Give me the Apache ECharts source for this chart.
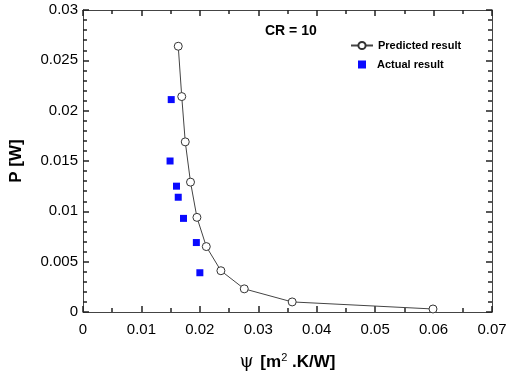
<!DOCTYPE html>
<html>
<head>
<meta charset="utf-8">
<script src="https://cdn.jsdelivr.net/npm/echarts@6/dist/echarts.min.js"></script>
<style>
  html, body { margin: 0; padding: 0; background: #fff; }
  #chart { width: 510px; height: 378px; }
</style>
</head>
<body>
<div id="chart"></div>
<script>
// predicted curve, psi [m2.K/W] vs P [W]
const predPsi = [0.0163, 0.0169, 0.0175, 0.0184, 0.0195, 0.0211, 0.0236, 0.0276, 0.0358, 0.0599]
const predP = [0.0264, 0.0214, 0.0169, 0.0129, 0.0094, 0.0065, 0.0041, 0.0023, 0.0010, 0.0003]
// measured points
const actPsi = [0.0151, 0.0149, 0.0160, 0.0163, 0.0172, 0.0194, 0.0200]
const actP = [0.0211, 0.0150, 0.0125, 0.0114, 0.0093, 0.0069, 0.0039]

const font = 'Liberation Sans'
const frameColor = '#444'
const tickColor = '#222'

const chart = echarts.init(document.getElementById('chart'))

// ticks point into the plot on all four sides
function axisStyle(minorSplit) {
  return {
    axisLine: { show: true, onZero: false, lineStyle: { color: frameColor, width: 1 } },
    axisTick: { show: true, inside: true, length: 6, lineStyle: { color: tickColor, width: 1.5 } },
    minorTick: { show: true, splitNumber: minorSplit, length: 4, lineStyle: { color: tickColor, width: 1.5 } },
    splitLine: { show: true, lineStyle: { opacity: 0 } }
  }
}

const option = {
  animation: false,
  grid: { left: 77, right: 18, top: 10, bottom: 66 },
  graphic: [{
    type: 'text',
    left: 265,
    top: 24,
    style: { text: 'CR = 10', font: 'bold 14px "Liberation Sans"', fill: '#000' }
  }],
  legend: [{
    data: ['Predicted result'],
    left: 345,
    top: 35,
    itemWidth: 22,
    itemHeight: 9,
    itemGap: 0,
    textStyle: { fontFamily: font, fontWeight: 'bold', fontSize: 11, color: '#000' }
  }, {
    data: ['Actual result'],
    left: 353,
    top: 54,
    itemWidth: 8,
    itemHeight: 8,
    textStyle: { fontFamily: font, fontWeight: 'bold', fontSize: 11, color: '#000', padding: [0, 0, 0, 6] }
  }],
  xAxis: [{
    type: 'value',
    min: 0, max: 0.07, interval: 0.01,
    ...axisStyle(2),
    axisLabel: { color: '#000', fontFamily: font, fontSize: 15, margin: 10 },
    name: '{psi|ψ}  {b|[m}{sup|2}{b| .K/W]}',
    nameLocation: 'middle',
    nameGap: 40,
    nameTextStyle: {
      rich: {
        psi: { fontFamily: 'DejaVu Serif', fontSize: 18, color: '#000' },
        b: { fontFamily: font, fontWeight: 'bold', fontSize: 17, color: '#000' },
        sup: { fontFamily: font, fontSize: 11, color: '#000', verticalAlign: 'top', padding: [0, 0, 10, 0] }
      }
    }
  }, {
    type: 'value',
    position: 'top',
    min: 0, max: 0.07, interval: 0.01,
    ...axisStyle(2),
    axisLabel: { show: false }
  }],
  yAxis: [{
    type: 'value',
    min: 0, max: 0.03, interval: 0.005,
    ...axisStyle(5),
    axisLabel: { color: '#000', fontFamily: font, fontSize: 15, margin: 5 },
    name: 'P [W]',
    nameLocation: 'middle',
    nameGap: 58,
    nameRotate: 90,
    nameTextStyle: { fontFamily: font, fontWeight: 'bold', fontSize: 17, color: '#000' }
  }, {
    type: 'value',
    position: 'right',
    min: 0, max: 0.03, interval: 0.005,
    ...axisStyle(5),
    axisLabel: { show: false }
  }],
  series: [{
    name: 'Predicted result',
    type: 'line',
    data: predPsi.map((x, i) => [x, predP[i]]),
    symbol: 'circle',
    symbolSize: 8,
    lineStyle: { color: '#444', width: 1 },
    itemStyle: { color: '#fff', borderColor: '#333', borderWidth: 1 },
    z: 3
  }, {
    name: 'Actual result',
    type: 'scatter',
    data: actPsi.map((x, i) => [x, actP[i]]),
    symbol: 'rect',
    symbolSize: 7,
    itemStyle: { color: '#0a0aff', opacity: 1 },
    z: 2
  }]
}

chart.setOption(option)
</script>
</body>
</html>
